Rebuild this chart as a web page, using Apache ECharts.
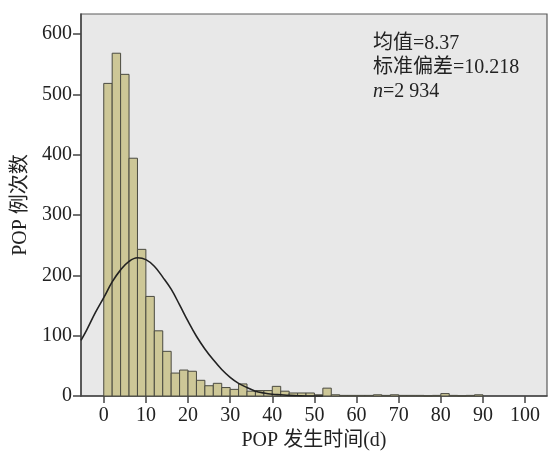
<!DOCTYPE html>
<html>
<head>
<meta charset="utf-8">
<script src="https://cdn.jsdelivr.net/npm/echarts@6/dist/echarts.min.js"></script>
<style>
  html, body { margin: 0; padding: 0; background: #fff; }
  #chart { width: 549px; height: 456px; }
</style>
</head>
<body>
<div id="chart"></div>
<script>
// 直方图：每个组的起点（组距 2 天）
var binStarts = [0, 2, 4, 6, 8, 10, 12, 14, 16, 18, 20, 22, 24, 26, 28, 30, 32, 34, 36, 38,
                 40, 42, 44, 46, 48, 50, 52, 54, 56, 58, 60, 62, 64, 66, 68, 70, 72, 74, 76, 78,
                 80, 82, 84, 86, 88];
// 每组的例次数
var binCounts = [518, 568, 533, 394, 243, 165, 108, 74, 38, 43, 41, 26, 17, 21, 14, 11, 20, 8, 9, 9,
                 16, 8, 5, 5, 5, 2, 13, 2, 1, 1, 1, 1, 2, 1, 2, 1, 1, 1, 0, 1,
                 4, 1, 0, 1, 2];
var binWidth = 2;

// 正态曲线（从图上读取的点）
var curveX = [-5.4, -4, -2, 0, 2, 4, 6, 8, 10, 12, 14, 16, 18, 20, 22, 24, 26, 28, 30, 32,
              34, 36, 38, 40, 42, 44, 46, 48, 50, 52];
var curveY = [92, 110, 138, 163, 189, 209, 223, 229, 226, 215, 197, 177, 151, 124, 99, 78, 60, 44, 31, 21,
              14, 8, 5, 3, 2, 1, 0.5, 0, 0, 0];

var xTicks = [0, 10, 20, 30, 40, 50, 60, 70, 80, 90, 100];
var yTicks = [0, 100, 200, 300, 400, 500, 600];

var serif = '"Liberation Serif", "Noto Sans CJK SC", serif';

var myChart = echarts.init(document.getElementById('chart'));

var histData = [];
for (var i = 0; i < binStarts.length; i++) {
    histData.push([binStarts[i], binStarts[i] + binWidth, binCounts[i]]);
}
var curveData = [];
for (var j = 0; j < curveX.length; j++) {
    curveData.push([curveX[j], curveY[j]]);
}

var option = {
    backgroundColor: '#ffffff',
    animation: false,
    grid: {
        left: 81, right: 2, top: 14, bottom: 57,
        show: true,
        backgroundColor: '#e8e8e8',
        borderColor: '#5a5a5a',
        borderWidth: 1.2
    },
    xAxis: {
        type: 'value',
        min: -5.4,
        max: 105.2,
        name: 'POP 发生时间(d)',
        nameLocation: 'middle',
        nameGap: 35,
        nameTextStyle: { fontFamily: serif, fontSize: 20, color: '#222' },
        axisLine: { show: true, onZero: false, lineStyle: { color: '#444', width: 1.5 } },
        axisTick: { show: true, length: 7, lineStyle: { color: '#444', width: 1.5 }, customValues: xTicks },
        axisLabel: { fontFamily: serif, fontSize: 20, color: '#222', margin: 10, customValues: xTicks },
        splitLine: { show: false }
    },
    yAxis: {
        type: 'value',
        min: 0,
        max: 633,
        name: 'POP 例次数',
        nameLocation: 'middle',
        nameGap: 48,
        nameTextStyle: { fontFamily: serif, fontSize: 20, color: '#222' },
        axisLine: { show: true, onZero: false, lineStyle: { color: '#444', width: 1.5 } },
        axisTick: { show: true, length: 8, lineStyle: { color: '#444', width: 1.5 }, customValues: yTicks },
        axisLabel: { fontFamily: serif, fontSize: 20, color: '#222', margin: 9, customValues: yTicks },
        splitLine: { show: false }
    },
    graphic: [{
        type: 'text',
        left: 373,
        top: 32,
        style: {
            text: '均值=8.37\n标准偏差=10.218\n{i|n}=2 934',
            font: '20px ' + serif,
            fill: '#222',
            lineHeight: 24,
            rich: {
                i: { fontStyle: 'italic', fontFamily: serif, fontSize: 20, fill: '#222' }
            }
        }
    }],
    series: [
        {
            type: 'custom',
            data: histData,
            encode: { x: [0, 1], y: 2 },
            renderItem: function (params, api) {
                var p0 = api.coord([api.value(0), 0]);
                var p1 = api.coord([api.value(1), api.value(2)]);
                return {
                    type: 'rect',
                    shape: { x: p0[0], y: p1[1], width: p1[0] - p0[0], height: p0[1] - p1[1] },
                    style: { fill: '#cdc797', stroke: '#4a4a40', lineWidth: 1 }
                };
            },
            z: 2
        },
        {
            type: 'line',
            data: curveData,
            smooth: 0.4,
            symbol: 'none',
            lineStyle: { color: '#222', width: 1.6 },
            z: 3
        }
    ]
};

myChart.setOption(option);
</script>
</body>
</html>
